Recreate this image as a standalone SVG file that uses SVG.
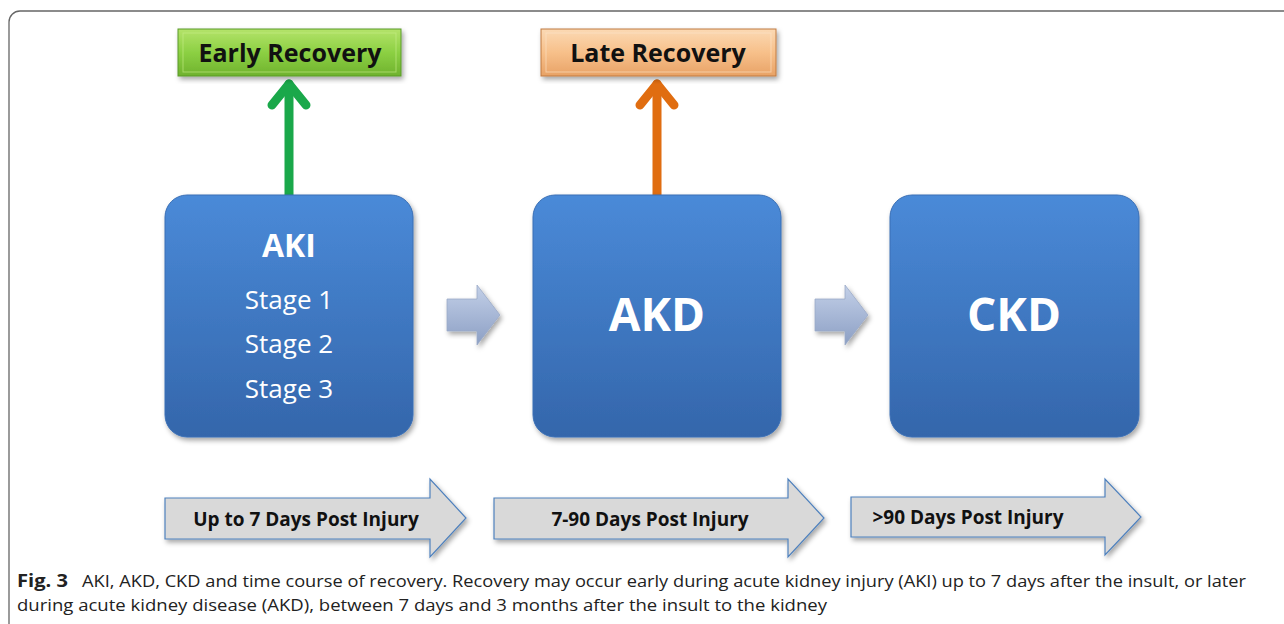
<svg xmlns="http://www.w3.org/2000/svg" width="1284" height="624" viewBox="0 0 1284 624">
<defs>
<linearGradient id="gBlue" x1="0" y1="0" x2="0" y2="1">
<stop offset="0" stop-color="#4a8ad8"/><stop offset="1" stop-color="#3466ab"/>
</linearGradient>
<linearGradient id="gGreen" x1="0" y1="0" x2="0" y2="1">
<stop offset="0" stop-color="#b4e36a"/><stop offset="0.5" stop-color="#8cd043"/><stop offset="1" stop-color="#6fb22e"/>
</linearGradient>
<linearGradient id="gOrange" x1="0" y1="0" x2="0" y2="1">
<stop offset="0" stop-color="#fbd9b4"/><stop offset="0.5" stop-color="#f7c08a"/><stop offset="1" stop-color="#e8a266"/>
</linearGradient>
<linearGradient id="gSmall" x1="0" y1="0" x2="0" y2="1">
<stop offset="0" stop-color="#c3d0e8"/><stop offset="1" stop-color="#8c9fc4"/>
</linearGradient>
<filter id="sh" x="-10%" y="-10%" width="125%" height="125%">
<feDropShadow dx="2" dy="3" stdDeviation="2.5" flood-color="#000" flood-opacity="0.35"/>
</filter>
<style>
.box{fill:url(#gBlue);stroke:#3a6fb5;stroke-width:1;filter:url(#sh)}
.wt{fill:#fff;font-family:"Open Sans","Noto Sans",sans-serif;text-anchor:middle}
.lbl{font-family:"Open Sans","Noto Sans",sans-serif;font-weight:bold;fill:#111;text-anchor:middle}
.tl{fill:#d9d9d9;stroke:#4f81bd;stroke-width:1.2;filter:url(#sh)}
.cap{font-family:"Open Sans","Noto Sans",sans-serif;font-size:17px;fill:#222}
</style>
</defs>
<rect x="9" y="11" width="1300" height="640" rx="11" fill="none" stroke="#666" stroke-width="1.3"/>

<g id="connectors">
<g stroke-linecap="round" stroke-linejoin="round" fill="none">
<line x1="289" y1="195" x2="289" y2="84" stroke="#1aa84a" stroke-width="9"/>
<polyline points="272,105 289,84 306,105" stroke="#1aa84a" stroke-width="9"/>
<line x1="657" y1="195" x2="657" y2="84" stroke="#e06d10" stroke-width="9"/>
<polyline points="640,105 657,84 674,105" stroke="#e06d10" stroke-width="9"/>
</g>
<polygon points="447,299 477,299 477,285 500,315 477,345 477,331 447,331" fill="url(#gSmall)" stroke="#9aa9c6" stroke-width="0.8" filter="url(#sh)"/>
<polygon points="815,299 845,299 845,285 868,315 845,345 845,331 815,331" fill="url(#gSmall)" stroke="#9aa9c6" stroke-width="0.8" filter="url(#sh)"/>
</g>

<g id="early">
<rect x="178" y="29" width="223" height="47" fill="url(#gGreen)" stroke="#5a9a2a" stroke-width="1" filter="url(#sh)"/>
<rect x="183" y="33" width="213" height="39" fill="none" stroke="#c8ef8a" stroke-width="1" opacity="0.6"/>
<text class="lbl" x="290" y="62" font-size="25">Early Recovery</text>
</g>
<g id="late">
<rect x="541" y="29" width="235" height="47" fill="url(#gOrange)" stroke="#c07a40" stroke-width="1" filter="url(#sh)"/>
<rect x="546" y="33" width="225" height="39" fill="none" stroke="#fde6cc" stroke-width="1" opacity="0.6"/>
<text class="lbl" x="658" y="62" font-size="25">Late Recovery</text>
</g>

<g id="aki">
<rect class="box" x="165" y="195" width="248" height="242" rx="22"/>
<text class="wt" x="289" y="257" font-size="32" font-weight="bold">AKI</text>
<text class="wt" x="289" y="309" font-size="26">Stage 1</text>
<text class="wt" x="289" y="353" font-size="26">Stage 2</text>
<text class="wt" x="289" y="398" font-size="26">Stage 3</text>
</g>
<g id="akd">
<rect class="box" x="533" y="195" width="248" height="242" rx="22"/>
<text class="wt" x="657" y="331" font-size="46" font-weight="bold">AKD</text>
</g>
<g id="ckd">
<rect class="box" x="890" y="195" width="249" height="242" rx="22"/>
<text class="wt" x="1014" y="331" font-size="46" font-weight="bold">CKD</text>
</g>

<g id="t1">
<polygon class="tl" points="165,498 430,498 430,479 466,518 430,557 430,539 165,539"/>
<text class="lbl" x="306" y="526" font-size="19">Up to 7 Days Post Injury</text>
</g>
<g id="t2">
<polygon class="tl" points="494,498 788,498 788,479 824,518 788,557 788,539 494,539"/>
<text class="lbl" x="650" y="526" font-size="19">7-90 Days Post Injury</text>
</g>
<g id="t3">
<polygon class="tl" points="851,497 1105,497 1105,479 1141,517 1105,555 1105,537 851,537"/>
<text class="lbl" x="968" y="524" font-size="19">&gt;90 Days Post Injury</text>
</g>

<g id="caption">
<text class="cap" x="17" y="587" font-weight="bold" textLength="51" lengthAdjust="spacingAndGlyphs">Fig. 3</text>
<text class="cap" x="82" y="587" textLength="1164" lengthAdjust="spacingAndGlyphs">AKI, AKD, CKD and time course of recovery. Recovery may occur early during acute kidney injury (AKI) up to 7 days after the insult, or later</text>
<text class="cap" x="17" y="611" textLength="810" lengthAdjust="spacingAndGlyphs">during acute kidney disease (AKD), between 7 days and 3 months after the insult to the kidney</text>
</g>
</svg>
